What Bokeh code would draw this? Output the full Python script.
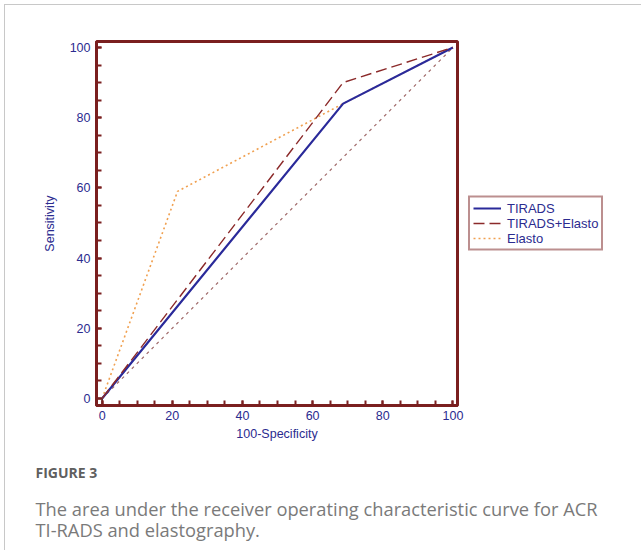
from bokeh.plotting import figure
from bokeh.models import Range1d, SingleIntervalTicker, Legend, LegendItem, Title
from bokeh.embed import file_html
from bokeh.resources import INLINE

# data
fpr_tirads = [0, 68.7, 100]
sens_tirads = [0, 84, 100]
fpr_combo = [0, 68.7, 100]
sens_combo = [0, 90, 100]
fpr_elasto = [0, 21.5, 68.7, 100]
sens_elasto = [0, 59, 84, 100]
diag = [0, 100]

MAROON = "#7a1f1f"
BLUE_TXT = "#2b2b8f"
FONT = "Liberation Sans"

x0, x1 = -1.6, 101.3
y0, y1 = -2.0, 101.7

p = figure(frame_width=361, frame_height=364, output_backend="svg", toolbar_location=None,
           x_range=Range1d(x0, x1), y_range=Range1d(y0, y1),
           min_border_left=91, min_border_right=176, min_border_top=36, min_border_bottom=145)
p.styles = {"margin": "4px 0 0 4px", "border-top": "1px solid #c8c8c8",
            "border-left": "1px solid #c8c8c8"}
p.grid.visible = False
p.outline_line_color = MAROON
p.outline_line_width = 3

for ax in (p.xaxis[0], p.yaxis[0]):
    ax.ticker = SingleIntervalTicker(interval=20, num_minor_ticks=4)
    ax.axis_line_color = MAROON
    ax.axis_line_width = 3
    ax.major_tick_line_color = MAROON
    ax.minor_tick_line_color = MAROON
    ax.major_tick_line_width = 2
    ax.minor_tick_line_width = 2
    ax.major_tick_in = 5
    ax.major_tick_out = 0
    ax.minor_tick_in = 5
    ax.minor_tick_out = 0
    ax.major_label_text_font = FONT
    ax.major_label_text_font_size = "12.5px"
    ax.major_label_text_color = BLUE_TXT
    ax.axis_label_text_font = FONT
    ax.axis_label_text_font_size = "12.5px"
    ax.axis_label_text_font_style = "normal"
    ax.axis_label_text_color = BLUE_TXT

p.xaxis.axis_label = "100-Specificity"
p.yaxis.axis_label = "Sensitivity"
p.xaxis.major_label_standoff = 5
p.xaxis.axis_label_standoff = 4
p.yaxis.major_label_standoff = 6
p.yaxis.axis_label_standoff = 10

# corner marker at origin
p.line([x0, 0, 0], [0, 0, y0], line_color="#3a1010", line_width=1.5)

# reference diagonal
p.line(diag, diag, line_color="#a06a6a", line_width=1.2, line_dash="3 4")

r_el = p.line(fpr_elasto, sens_elasto, line_color="#f0a050", line_width=1.6, line_dash="2 3")
r_tr = p.line(fpr_tirads, sens_tirads, line_color="#2a2a9a", line_width=2.2)
r_co = p.line(fpr_combo, sens_combo, line_color="#8b2a2a", line_width=1.4, line_dash="11 5")

legend = Legend(items=[LegendItem(label="TIRADS", renderers=[r_tr]),
                       LegendItem(label="TIRADS+Elasto", renderers=[r_co]),
                       LegendItem(label="Elasto", renderers=[r_el])],
                location="center_left", margin=11, padding=3, spacing=0,
                glyph_width=28, glyph_height=13, label_height=13, label_standoff=6,
                label_text_font=FONT, label_text_font_size="13px", label_text_color=BLUE_TXT,
                border_line_color=MAROON, border_line_width=2, background_fill_alpha=0)
p.add_layout(legend, "right")

# caption
cap_head = "FIGURE 3"
cap_lines = ["The area under the receiver operating characteristic curve for ACR",
             "TI-RADS and elastography."]
cap_standoffs = [-10, -2]
p.add_layout(Title(text=cap_head, align="left", offset=-61, text_font="Open Sans",
                   text_font_size="14px", text_color="#5f5f5f", text_font_style="bold",
                   standoff=34), "below")
for t, s in zip(cap_lines, cap_standoffs):
    p.add_layout(Title(text=t, align="left", offset=-61, text_font="Open Sans",
                       text_font_size="18.3px", text_color="#7a7a7a", text_font_style="normal",
                       standoff=s), "below")

open("out.html", "w").write(file_html(p, INLINE))
